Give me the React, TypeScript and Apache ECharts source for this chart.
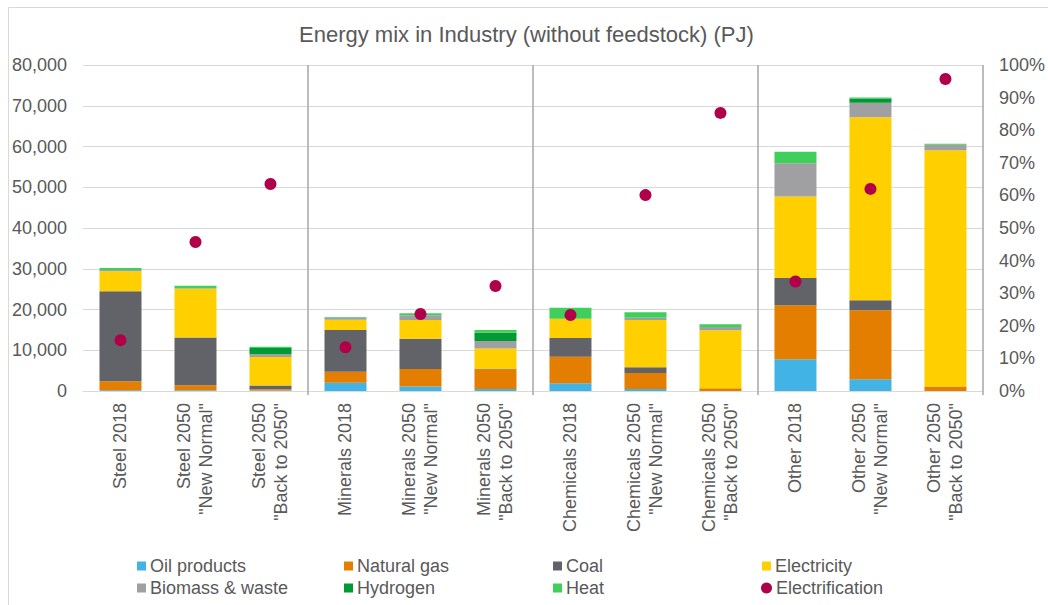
import React, { useEffect, useRef } from "react";
import * as echarts from "echarts";

const categories = [
  "Steel 2018",
  'Steel 2050\n"New Normal"',
  'Steel 2050\n"Back to 2050"',
  "Minerals 2018",
  'Minerals 2050\n"New Normal"',
  'Minerals 2050\n"Back to 2050"',
  "Chemicals 2018",
  'Chemicals 2050\n"New Normal"',
  'Chemicals 2050\n"Back to 2050"',
  "Other 2018",
  'Other 2050\n"New Normal"',
  'Other 2050\n"Back to 2050"',
];

const oilProducts = [200, 200, 100, 2000, 1100, 500, 1900, 500, 0, 7800, 2900, 0];
const naturalGas = [2200, 1200, 350, 2700, 4300, 4800, 6500, 3900, 700, 13250, 16900, 1100];
const coal = [22100, 11700, 900, 10300, 7400, 100, 4600, 1400, 0, 6700, 2450, 0];
const electricity = [4900, 12000, 7000, 2500, 4600, 5000, 4700, 11600, 14200, 19950, 44900, 58000];
const biomassWaste = [300, 100, 700, 400, 1200, 1900, 0, 600, 800, 8200, 3600, 1300];
const hydrogen = [0, 0, 1500, 0, 0, 2000, 0, 0, 0, 0, 1000, 0];
const heat = [500, 600, 300, 200, 500, 700, 2700, 1300, 700, 2800, 300, 300];
const electrification = [15.6, 45.7, 63.5, 13.4, 23.6, 32.2, 23.3, 60.1, 85.3, 33.6, 62, 95.7];

const leftTicks = { min: 0, max: 80000, interval: 10000 };
const rightTicks = { min: 0, max: 100, interval: 10 };

const FONT = "Liberation Sans, Arial, sans-serif";
const TXT = "#595959";

const stackSeries = [
  { name: "Oil products", data: oilProducts, color: "#41B3E4" },
  { name: "Natural gas", data: naturalGas, color: "#E37E00" },
  { name: "Coal", data: coal, color: "#626368" },
  { name: "Electricity", data: electricity, color: "#FFCF00" },
  { name: "Biomass & waste", data: biomassWaste, color: "#A0A0A3" },
  { name: "Hydrogen", data: hydrogen, color: "#009933" },
  { name: "Heat", data: heat, color: "#40CF5A" },
];

const legendPos = [
  { name: "Oil products", left: 137, top: 557 },
  { name: "Natural gas", left: 344, top: 557 },
  { name: "Coal", left: 553, top: 557 },
  { name: "Electricity", left: 762, top: 557 },
  { name: "Biomass & waste", left: 137, top: 579 },
  { name: "Hydrogen", left: 344, top: 579 },
  { name: "Heat", left: 553, top: 579 },
  { name: "Electrification", left: 761, top: 579 },
];

export default function App() {
  const ref = useRef<HTMLDivElement>(null);
  useEffect(() => {
    if (!ref.current) return;
    const chart = echarts.init(ref.current, undefined, { renderer: "svg" });
    const option: any = {
      animation: false,
      backgroundColor: "#ffffff",
      textStyle: { fontFamily: FONT },
      title: {
        text: "Energy mix in Industry (without feedstock) (PJ)",
        left: 299,
        top: 23,
        padding: 0,
        textStyle: { fontFamily: FONT, fontSize: 22, fontWeight: "normal", color: TXT },
      },
      graphic: [
        {
          type: "rect",
          z: -10,
          shape: { x: 8.5, y: 7.5, width: 1200, height: 800 },
          style: { fill: "none", stroke: "#D9D9D9", lineWidth: 1 },
        },
      ],
      legend: legendPos.map((l) => ({
        data: [
          l.name === "Electrification"
            ? { name: l.name, icon: "circle" }
            : { name: l.name, icon: "rect" },
        ],
        left: l.left,
        top: l.top,
        padding: 0,
        itemWidth: l.name === "Electrification" ? 11 : 9,
        itemHeight: l.name === "Electrification" ? 11 : 9,
        textStyle: { fontFamily: FONT, fontSize: 18, color: TXT, padding: [0, 0, 0, -1] },
        selectedMode: false,
      })),
      grid: { left: 83, right: 65, top: 65, bottom: 214, containLabel: false },
      xAxis: {
        type: "category",
        data: categories,
        boundaryGap: true,
        axisLine: { show: true, lineStyle: { color: "#D9D9D9", width: 1 } },
        axisTick: {
          show: true,
          length: 4,
          interval: (i: number) => i === 3 || i === 6 || i === 9,
          lineStyle: { color: "#A6A6A6", width: 1.5 },
        },
        splitLine: {
          show: true,
          interval: (i: number) => i === 3 || i === 6 || i === 9,
          lineStyle: { color: "#A6A6A6", width: 1.5 },
        },
        axisLabel: {
          interval: 0,
          rotate: 90,
          margin: 12,
          fontFamily: FONT,
          fontSize: 18,
          lineHeight: 22,
          color: TXT,
        },
      },
      yAxis: [
        {
          type: "value",
          ...leftTicks,
          axisLine: { show: false },
          axisTick: { show: false },
          splitLine: { lineStyle: { color: "#D9D9D9", width: 1 } },
          axisLabel: {
            margin: 16,
            fontFamily: FONT,
            fontSize: 18,
            color: TXT,
            formatter: (v: number) => v.toLocaleString("en-US"),
          },
        },
        {
          type: "value",
          ...rightTicks,
          position: "right",
          axisLine: { show: false },
          axisTick: { show: false },
          splitLine: { show: false },
          axisLabel: {
            margin: 16,
            fontFamily: FONT,
            fontSize: 18,
            color: TXT,
            formatter: "{value}%",
          },
        },
      ],
      series: [
        ...stackSeries.map((s) => ({
          name: s.name,
          type: "bar",
          stack: "total",
          barWidth: 42,
          data: s.data,
          itemStyle: { color: s.color },
        })),
        {
          name: "Electrification",
          type: "scatter",
          yAxisIndex: 1,
          symbol: "circle",
          symbolSize: 12,
          data: electrification,
          itemStyle: { color: "#B0004A", opacity: 1 },
          z: 5,
        },
      ],
    };
    chart.setOption(option);
    return () => chart.dispose();
  }, []);
  return (
    <div
      ref={ref}
      style={{ position: "fixed", left: 0, top: 0, width: 1048, height: 605 }}
    />
  );
}
